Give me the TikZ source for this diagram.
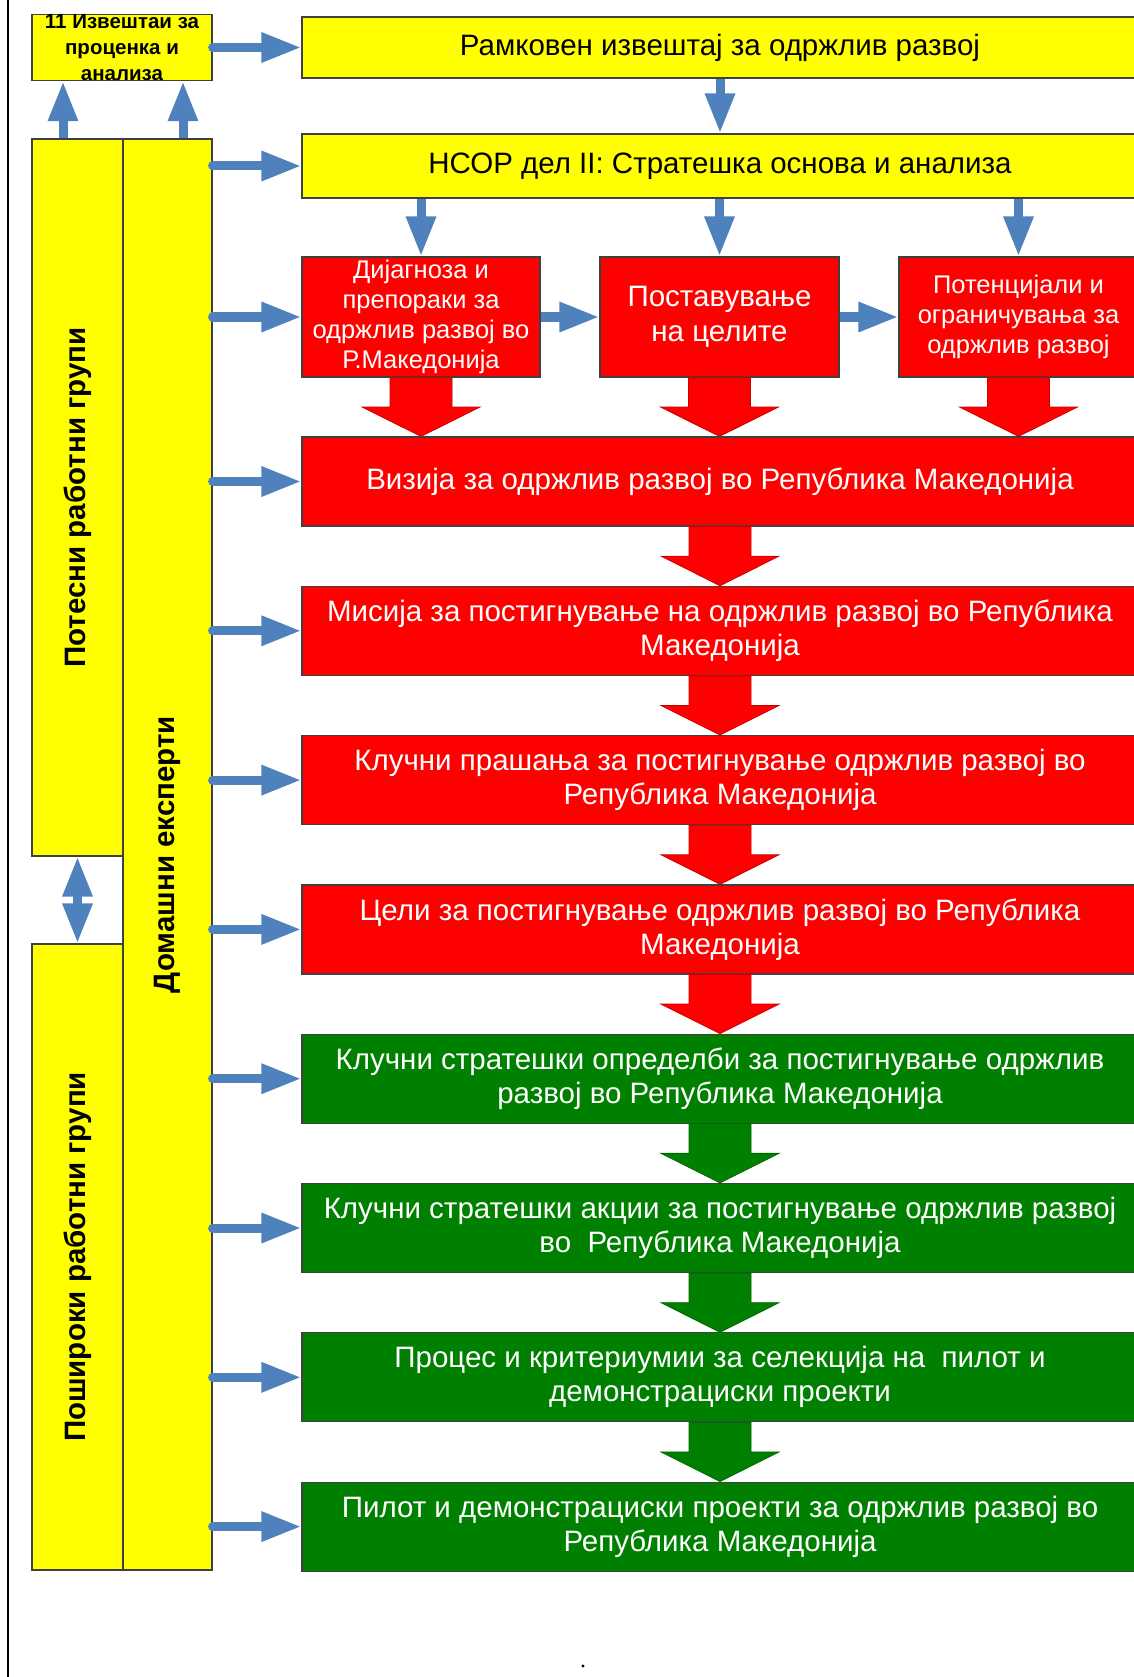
\documentclass[tikz,border=0pt]{standalone}
\usepackage{fontspec}
\setmainfont{Liberation Sans}
\usetikzlibrary{arrows.meta,calc}

\definecolor{flowblue}{RGB}{79,129,189}
\definecolor{boxyellow}{RGB}{255,255,0}
\definecolor{boxred}{RGB}{255,0,0}
\definecolor{boxgreen}{RGB}{0,128,0}

% wide block arrow from the bottom of one box down to the top of the next
\newcommand\blockarrow[3]{%
  \filldraw[fill=#3, draw=#3!80!black, line width=0.8pt]
    let \p1=(#1.south), \p2=(#1.south |- #2.north), \n1={(\y1+\y2)/2} in
    (\x1-31pt,\y1) -- (\x1+31pt,\y1) -- (\x1+31pt,\n1) -- (\x1+59pt,\n1)
    -- (\x1,\y2) -- (\x1-59pt,\n1) -- (\x1-31pt,\n1) -- cycle;}

\tikzset{
  box/.style={draw=black!75, line width=1.2pt, inner sep=0pt, align=center},
  ybox/.style={box, fill=boxyellow, text=black},
  rbox/.style={box, fill=boxred, text=white},
  gbox/.style={box, fill=boxgreen, text=white},
  wide/.style={minimum width=836pt, minimum height=89pt,
    font=\fontsize{29.5}{34}\selectfont},
  side/.style={font=\bfseries\fontsize{29.5}{34}\selectfont},
  flow/.style={draw=flowblue, line width=9pt,
    -{Triangle[length=40pt,width=28pt]}},
  flowboth/.style={draw=flowblue, line width=9pt,
    {Triangle[length=40pt,width=28pt]}-{Triangle[length=40pt,width=28pt]}},
}

\begin{document}
\begin{tikzpicture}[x=1pt,y=-1pt]
\useasboundingbox (0,0) rectangle (1134,1677);
\clip (0,0) rectangle (1134,1677);

% margin rule on the left
\draw[line width=2.5pt] (8,0) -- (8,1677);

% left column: working groups and experts
\node[ybox, minimum width=91pt, minimum height=717pt] (potesni) at (77.5,497.5) {};
\node[side, rotate=90] at (potesni) {Потесни работни групи};
\node[ybox, minimum width=91pt, minimum height=626pt] (poshiroki) at (77.5,1257) {};
\node[side, rotate=90] at (poshiroki) {Пошироки работни групи};
\node[ybox, minimum width=89pt, minimum height=1431pt] (eksp) at (167.5,854.5) {};
\node[side, rotate=90] at (eksp) {Домашни експерти};

% reports box
\node[ybox, minimum width=180pt, minimum height=61pt,
  font=\bfseries\fontsize{20.5}{26}\selectfont] (rep) at (122,47.5)
  {11 Извештаи за\\проценка и\\анализа};

% top yellow boxes
\node[ybox, minimum width=836pt, minimum height=61pt,
  font=\fontsize{29.5}{34}\selectfont] (ramk) at (720,47.5)
  {Рамковен извештај за одржлив развој};
\node[ybox, minimum width=836pt, minimum height=64pt,
  font=\fontsize{29.5}{34}\selectfont] (nsor) at (720,166)
  {НСОР дел II: Стратешка основа и анализа};

% analysis row
\node[rbox, minimum width=238pt, minimum height=120pt,
  font=\fontsize{25.5}{30}\selectfont] (red1) at (421,317)
  {Дијагноза и\\препораки за\\одржлив развој во\\Р.Македонија};
\node[rbox, minimum width=239pt, minimum height=120pt,
  font=\fontsize{29.5}{35}\selectfont] (red2) at (719.5,317)
  {Поставување\\на целите};
\node[rbox, minimum width=239pt, minimum height=120pt,
  font=\fontsize{25.5}{30}\selectfont] (red3) at (1018.5,317)
  {Потенцијали и\\ограничувања за\\одржлив развој};

% strategy chain
\node[rbox, wide] (b1) at (720,481.5)
  {Визија за одржлив развој во Република Македонија};
\node[rbox, wide] (b2) at (720,630.8)
  {Мисија за постигнување на одржлив развој во Република\\Македонија};
\node[rbox, wide] (b3) at (720,780.1)
  {Клучни прашања за постигнување одржлив развој во\\Република Македонија};
\node[rbox, wide] (b4) at (720,929.4)
  {Цели за постигнување одржлив развој во Република\\Македонија};
\node[gbox, wide] (b5) at (720,1078.7)
  {Клучни стратешки определби за постигнување одржлив\\развој во Република Македонија};
\node[gbox, wide] (b6) at (720,1228)
  {Клучни стратешки акции за постигнување одржлив развој\\во\ \ Република Македонија};
\node[gbox, wide] (b7) at (720,1377.3)
  {Процес и критериумии за селекција на\ \ пилот и\\демонстрациски проекти};
\node[gbox, wide] (b8) at (720,1526.6)
  {Пилот и демонстрациски проекти за одржлив развој во\\Република Македонија};

% block arrows
\blockarrow{red1}{b1}{boxred}
\blockarrow{red2}{b1}{boxred}
\blockarrow{red3}{b1}{boxred}
\blockarrow{b1}{b2}{boxred}
\blockarrow{b2}{b3}{boxred}
\blockarrow{b3}{b4}{boxred}
\blockarrow{b4}{b5}{boxred}
\blockarrow{b5}{b6}{boxgreen}
\blockarrow{b6}{b7}{boxgreen}
\blockarrow{b7}{b8}{boxgreen}

% blue flow arrows
\draw[flow] (ramk.south) -- (nsor.north);
\draw[flow] (nsor.south -| red1) -- (red1.north);
\draw[flow] (nsor.south -| red2) -- (red2.north);
\draw[flow] (nsor.south -| red3) -- (red3.north);
\draw[flow] (red1.east) -- (red2.west);
\draw[flow] (red2.east) -- (red3.west);

\draw[flow, line cap=round] (rep.east) -- (ramk.west);
\foreach \t in {nsor,red1,b1,b2,b3,b4,b5,b6,b7,b8}
  \draw[flow, line cap=round] (eksp.east |- \t.west) -- (\t.west);

\draw[flow] ([xshift=-14.5pt]potesni.north) -- ([xshift=-14.5pt]potesni.north |- rep.south);
\draw[flow] ([xshift=15.5pt]eksp.north) -- ([xshift=15.5pt]eksp.north |- rep.south);
\draw[flowboth] (potesni.south) -- (poshiroki.north);

% stray dot below the chart
\fill (583,1666) circle (1.6);
\end{tikzpicture}
\end{document}
